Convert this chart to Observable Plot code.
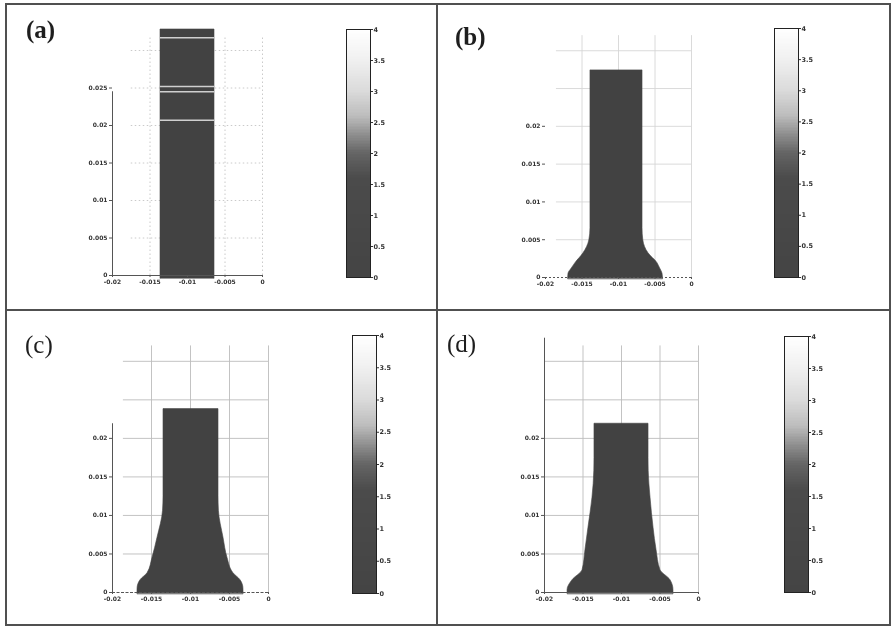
<!DOCTYPE html>
<html><head><meta charset="utf-8">
<script src="https://cdn.jsdelivr.net/npm/d3@7"></script>
<script src="https://cdn.jsdelivr.net/npm/@observablehq/plot@0.6"></script>
<style>
body{margin:0;background:#fff;}
#fig{position:relative;width:895px;height:629px;overflow:hidden;background:#fff;}
.ln{position:absolute;background:#505050;}
.lab{position:absolute;font-family:"Liberation Serif","DejaVu Serif",serif;font-size:25px;line-height:1;color:#1e1e1e;}
#fig svg{position:absolute;background:transparent;max-width:none;will-change:transform;}
</style></head><body><div id="fig"></div>
<script>
// ---- data ----
const panelLabels = ["(a)", "(b)", "(c)", "(d)"];
const xTicks = [-0.02, -0.015, -0.01, -0.005, 0];
const yTicks = [0, 0.005, 0.01, 0.015, 0.02];
const yTicksA = [0, 0.005, 0.01, 0.015, 0.02, 0.025];
const gridY = [0.005, 0.01, 0.015, 0.02, 0.025, 0.03];
const gridX = [-0.015, -0.01, -0.005, 0];
const cbTicks = [0, 0.5, 1, 1.5, 2, 2.5, 3, 3.5, 4];
const cbValues = [0, 1.6, 2.0, 2.3, 2.6, 3.0, 3.5, 4];
const cbColors = ["#444444", "#4b4b4b", "#646464", "#8e8e8e", "#bcbcbc", "#dadada", "#f0f0f0", "#ffffff"];

// column profiles: height, left edge, right edge
const heightA = [-0.0004, 0.0328];
const leftA   = [-0.0136, -0.0136];
const rightA  = [-0.0064, -0.0064];
const stripesA = [0.0207, 0.0245, 0.0252, 0.0317];

const heightB = [-0.0002, 0.0005, 0.0012, 0.0019, 0.0032, 0.0049, 0.0065, 0.0274];
const leftB   = [-0.0169, -0.01685, -0.0164, -0.0159, -0.0148, -0.0140, -0.01384, -0.01384];
const rightB  = [-0.0039, -0.00397, -0.0043, -0.00466, -0.00589, -0.00660, -0.00671, -0.00671];

const heightC = [-0.0002, 0.0005, 0.0016, 0.0025, 0.0045, 0.0071, 0.0106, 0.0125, 0.0238];
const leftC   = [-0.0168, -0.01679, -0.01641, -0.01551, -0.01487, -0.01423, -0.01352, -0.01346, -0.01346];
const rightC  = [-0.0032, -0.00321, -0.00359, -0.00449, -0.00526, -0.00577, -0.00636, -0.00641, -0.00641];

const heightD = [-0.0002, 0.0003, 0.0016, 0.0029, 0.0055, 0.0084, 0.0123, 0.0158, 0.0175, 0.0219];
const leftD   = [-0.0170, -0.01701, -0.01636, -0.01506, -0.01468, -0.01429, -0.01377, -0.01353, -0.01351, -0.01351];
const rightD  = [-0.00325, -0.00325, -0.00364, -0.00494, -0.00545, -0.00584, -0.00623, -0.00647, -0.00649, -0.00649];

const axisTop = [0.0245, null, 0.0219, 0.033];

// ---- drawing ----
const fig = document.getElementById("fig");
const fmt = d => String(d);

function rows(h, l, r) { return h.map((y, i) => ({y, x1: l[i], x2: r[i]})); }

function mainPlot(o) {
  const marks = [
    Plot.ruleY(gridY, {x1: o.gx1, x2: 0, stroke: o.gridColor, strokeWidth: 0.9, strokeDasharray: o.dash}),
    Plot.ruleX(gridX, {y1: 0, y2: 0.032, stroke: o.gridColor, strokeWidth: 0.9, strokeDasharray: o.dash}),
    Plot.areaX(o.shape, {y: "y", x1: "x1", x2: "x2", fill: "#424242", stroke: "#444", strokeWidth: 0.6, curve: o.curve})
  ];
  if (o.stripes) marks.push(Plot.ruleY(o.stripes, {x1: o.shape[0].x1, x2: o.shape[0].x2, stroke: "#cfcfcf", strokeWidth: 1.3}));
  marks.push(Plot.ruleY([0], {x1: -0.02, x2: 0, stroke: "#555", strokeWidth: 1, strokeDasharray: o.xDash}));
  if (o.axisTop != null) marks.push(Plot.ruleX([-0.02], {y1: 0, y2: o.axisTop, stroke: "#555", strokeWidth: 1}));
  marks.push(Plot.axisY({ticks: o.yTicks, tickSize: 3, tickPadding: 2, fontSize: 6, fontWeight: "bold", fill: "#333", stroke: "#555", tickFormat: fmt, label: null}));
  marks.push(Plot.axisX({ticks: xTicks, tickSize: 2, tickPadding: 2, fontSize: 6, fontWeight: "bold", fill: "#333", stroke: "#555", tickFormat: fmt, label: null}));
  const svg = Plot.plot({
    width: o.w, height: o.h,
    marginLeft: o.ml, marginRight: o.mr, marginTop: o.mt, marginBottom: o.mb,
    x: {domain: [-0.02, 0]},
    y: {domain: [0, 0.034]},
    style: {fontFamily: "DejaVu Sans, sans-serif", background: "transparent"},
    marks
  });
  svg.style.left = o.left + "px";
  svg.style.top = o.top + "px";
  fig.appendChild(svg);
}

function colorbar(left, top, barH) {
  const steps = d3.range(0, 4, 0.025);
  const svg = Plot.plot({
    width: 50, height: barH + 10,
    marginTop: 5, marginBottom: 5, marginLeft: 0, marginRight: 26,
    x: {domain: [0, 1], axis: null},
    y: {domain: [0, 4], axis: null},
    color: {type: "linear", domain: cbValues, range: cbColors},
    style: {fontFamily: "DejaVu Sans, sans-serif", background: "transparent"},
    marks: [
      Plot.rect(steps, {x1: 0, x2: 1, y1: d => d, y2: d => d + 0.025, fill: d => d + 0.0125, stroke: d => d + 0.0125, strokeWidth: 1, shapeRendering: "crispEdges"}),
      Plot.frame({stroke: "#222", strokeWidth: 1}),
      Plot.axisY({anchor: "right", ticks: cbTicks, tickSize: 2, tickPadding: 1, fontSize: 6.5, fontWeight: "bold", fill: "#333", stroke: "#333", tickFormat: fmt, label: null})
    ]
  });
  svg.style.left = left + "px";
  svg.style.top = top + "px";
  fig.appendChild(svg);
}

mainPlot({left: 0, top: 0, w: 300, h: 300, ml: 112, mr: 38, mt: 20, mb: 25,
  shape: rows(heightA, leftA, rightA), stripes: stripesA, yTicks: yTicksA, axisTop: axisTop[0],
  gx1: -0.0175, gridColor: "#c4c4c4", dash: "1.5,2.5", xDash: null, curve: "linear"});
mainPlot({left: 440, top: 0, w: 300, h: 300, ml: 105, mr: 49, mt: 20, mb: 23,
  shape: rows(heightB, leftB, rightB), yTicks: yTicks, axisTop: axisTop[1],
  gx1: -0.0185, gridColor: "#d6d6d6", dash: null, xDash: "2,2", curve: "monotone-y"});
mainPlot({left: 0, top: 310, w: 300, h: 310, ml: 112, mr: 32, mt: 20, mb: 28,
  shape: rows(heightC, leftC, rightC), yTicks: yTicks, axisTop: axisTop[2],
  gx1: -0.0186, gridColor: "#bcbcbc", dash: null, xDash: "3,1.5", curve: "monotone-y"});
mainPlot({left: 440, top: 310, w: 300, h: 310, ml: 104, mr: 42, mt: 20, mb: 28,
  shape: rows(heightD, leftD, rightD), yTicks: yTicks, axisTop: axisTop[3],
  gx1: -0.02, gridColor: "#bcbcbc", dash: null, xDash: null, curve: "monotone-y"});

colorbar(346, 24, 248);
colorbar(774, 23, 249);
colorbar(352, 330, 258);
colorbar(784, 331, 256);

// panel labels
const labPos = [[26, 17], [455, 24], [25, 332], [447, 331]];
panelLabels.forEach((t, i) => {
  const d = document.createElement("div");
  d.className = "lab";
  d.textContent = t;
  d.style.left = labPos[i][0] + "px";
  d.style.top = labPos[i][1] + "px";
  if (i < 2) d.style.fontWeight = "bold";
  fig.appendChild(d);
});

// frame lines
[[5, 3, 886, 2], [5, 624, 886, 2], [5, 3, 2, 623], [889, 3, 2, 623], [436, 3, 2, 623], [5, 309, 886, 2]].forEach(([l, t, w, h]) => {
  const d = document.createElement("div");
  d.className = "ln";
  Object.assign(d.style, {left: l + "px", top: t + "px", width: w + "px", height: h + "px"});
  fig.appendChild(d);
});
</script></body></html>
